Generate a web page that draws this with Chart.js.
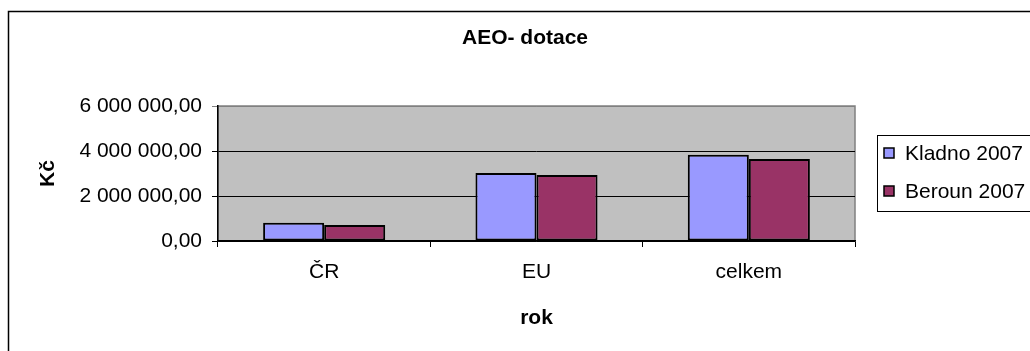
<!DOCTYPE html>
<html>
<head>
<meta charset="utf-8">
<script src="https://cdn.jsdelivr.net/npm/chart.js@4/dist/chart.umd.min.js"></script>
<style>
html,body{margin:0;padding:0;background:#fff;}
#wrap{width:1030px;height:351px;position:relative;}
</style>
</head>
<body>
<div id="wrap"><canvas id="c" width="1030" height="351"></canvas></div>
<script>
const categories = ["ČR", "EU", "celkem"];
const kladno2007 = [810000, 3020000, 3830000];
const beroun2007 = [710000, 2930000, 3640000];
const seriesNames = ["Kladno 2007", "Beroun 2007"];
const yTickValues = [0, 2000000, 4000000, 6000000];
const chartTitle = "AEO- dotace";
const yTitle = "Kč";
const xTitle = "rok";

const FONT = "'Liberation Sans', Arial, sans-serif";
const colors = ["#9999FF", "#993366"];

function fmt(v) {
  const parts = Math.round(v).toString().replace(/\B(?=(\d{3})+(?!\d))/g, " ");
  return parts + ",00";
}

const framePlugin = {
  id: 'frame',
  beforeDraw(chart) {
    const ctx = chart.ctx;
    const a = chart.chartArea;
    ctx.save();
    ctx.fillStyle = '#fff';
    ctx.fillRect(0, 0, chart.width, chart.height);
    ctx.strokeStyle = '#000';
    ctx.lineWidth = 1.5;
    ctx.strokeRect(8.5, 11.5, 1100, 400);
    ctx.fillStyle = '#C0C0C0';
    ctx.fillRect(a.left, a.top, a.right - a.left, a.bottom - a.top);
    ctx.strokeStyle = '#808080';
    ctx.lineWidth = 1.5;
    ctx.strokeRect(a.left, a.top, a.right - a.left, a.bottom - a.top);
    // title
    ctx.fillStyle = '#000';
    ctx.font = "bold 21px " + FONT;
    ctx.textAlign = 'center';
    ctx.textBaseline = 'middle';
    ctx.fillText(chartTitle, 525, 38);
    ctx.restore();
  },
  afterDraw(chart) {
    const ctx = chart.ctx;
    ctx.save();
    const lx = 877, ly = 135, lw = 200, lh = 76;
    ctx.fillStyle = '#fff';
    ctx.fillRect(lx, ly, lw, lh);
    ctx.strokeStyle = '#000';
    ctx.lineWidth = 1;
    ctx.strokeRect(lx + 0.5, ly + 0.5, lw, lh);
    ctx.font = "21px " + FONT;
    ctx.textBaseline = 'middle';
    ctx.textAlign = 'left';
    const ys = [153, 191];
    chart.data.datasets.forEach((ds, i) => {
      ctx.fillStyle = ds.backgroundColor;
      ctx.fillRect(884, ys[i] - 5, 10, 10);
      ctx.strokeStyle = '#000';
      ctx.lineWidth = 1.5;
      ctx.strokeRect(884, ys[i] - 5, 10, 10);
      ctx.fillStyle = '#000';
      ctx.fillText(ds.label, 905, ys[i] + 1);
    });
    ctx.restore();
  }
};

new Chart(document.getElementById('c'), {
  type: 'bar',
  data: {
    labels: categories,
    datasets: [
      { label: seriesNames[0], data: kladno2007, backgroundColor: colors[0], borderColor: '#000', borderWidth: 2, borderSkipped: false },
      { label: seriesNames[1], data: beroun2007, backgroundColor: colors[1], borderColor: '#000', borderWidth: 2, borderSkipped: false }
    ]
  },
  options: {
    responsive: false,
    animation: false,
    devicePixelRatio: 1,
    layout: { padding: { left: 0, right: 175, top: 106, bottom: 0 } },
    datasets: { bar: { categoryPercentage: 0.575, barPercentage: 1 } },
    plugins: {
      legend: { display: false },
      tooltip: { enabled: false },
      title: { display: false }
    },
    scales: {
      x: {
        offset: true,
        grid: { display: true, offset: true, drawOnChartArea: false, color: '#000', tickLength: 6, lineWidth: 1 },
        border: { display: true, color: '#000', width: 1.5 },
        ticks: { color: '#000', font: { family: FONT, size: 21 }, padding: 13, maxRotation: 0 },
        title: { display: true, text: xTitle, color: '#000', font: { family: FONT, size: 21, weight: 'bold' }, padding: { top: 0, bottom: 20 } },
        afterFit(s) { s.height = 110; }
      },
      y: {
        min: 0, max: 6000000,
        afterBuildTicks(s) { s.ticks = yTickValues.map(v => ({ value: v })); },
        grid: {
          color: (c) => (c.tick && c.tick.value === 6000000) ? '#808080' : '#000',
          tickLength: 6, lineWidth: 1
        },
        border: { display: true, color: '#000', width: 1.5 },
        ticks: { color: '#000', font: { family: FONT, size: 21 }, padding: 10, callback: (v) => fmt(v) },
        title: { display: true, text: yTitle, color: '#000', font: { family: FONT, size: 21, weight: 'bold' }, padding: { top: 36, bottom: 0 } },
        afterFit(s) { s.width = 218; }
      }
    }
  },
  plugins: [framePlugin]
});
</script>
</body>
</html>
